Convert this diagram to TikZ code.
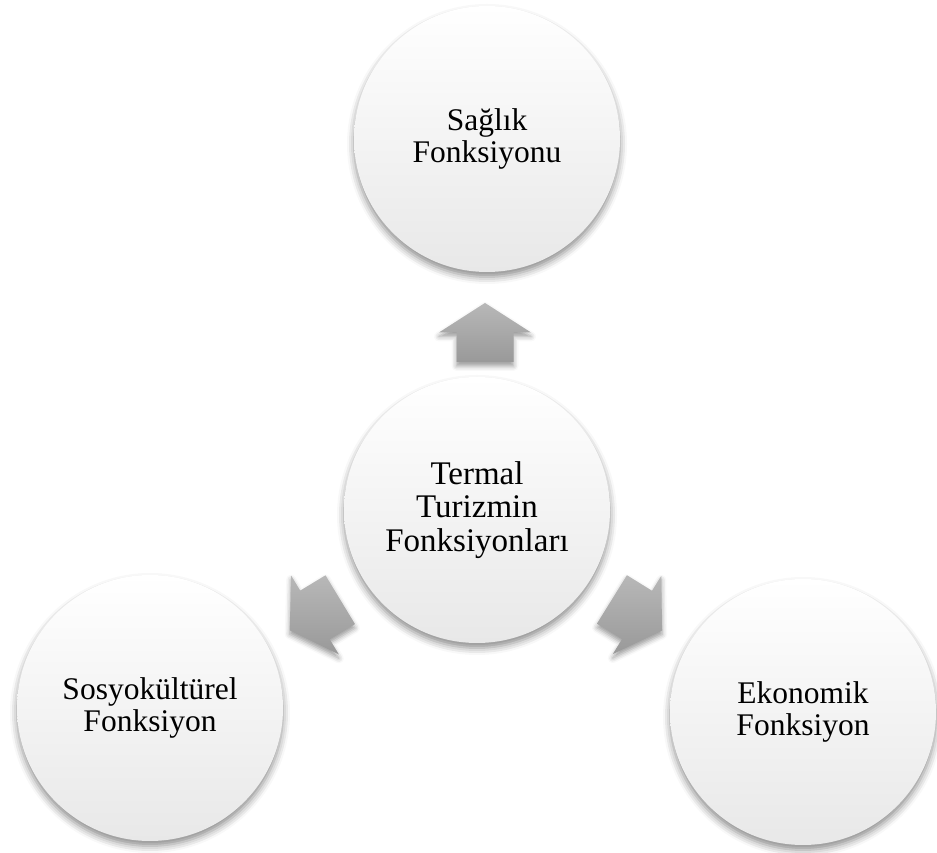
\documentclass[tikz,border=0pt]{standalone}
\usepackage{fontspec}
\setmainfont{Liberation Serif}
\usetikzlibrary{shadows.blur}
\begin{document}
\begin{tikzpicture}[x=1pt,y=1pt,
  circ/.style={circle, minimum size=266pt, inner sep=0pt, align=center,
    top color=white, bottom color=black!9,
    blur shadow={shadow xshift=0pt, shadow yshift=-5pt, shadow blur radius=7pt, shadow opacity=45},
    font=\fontsize{31.5}{32.5}\selectfont},
  bigarrow/.pic={
    \path[top color=black!28, bottom color=black!40,
      blur shadow={shadow xshift=0pt, shadow yshift=-4pt, shadow blur radius=5pt, shadow opacity=40}]
      (29.5,0) -- (0,46) -- (0,28.5) -- (-29.5,28.5) -- (-29.5,-28.5) -- (0,-28.5) -- (0,-46) -- cycle;
  }]
\useasboundingbox (0,0) rectangle (937,852);
\node[circ] (top) at (487,713) {Sağlık\\Fonksiyonu};
\node[circ, font=\fontsize{33}{33.5}\selectfont] (center) at (477,342) {Termal\\Turizmin\\Fonksiyonları};
\node[circ] (left) at (150,144) {Sosyokültürel\\Fonksiyon};
\node[circ] (right) at (803,140) {Ekonomik\\Fonksiyon};
\pic[rotate=90] at (485,519.5) {bigarrow};
\pic[rotate=211.2] at (315,237) {bigarrow};
\pic[rotate=-31.8] at (637,237) {bigarrow};
\end{tikzpicture}
\end{document}
